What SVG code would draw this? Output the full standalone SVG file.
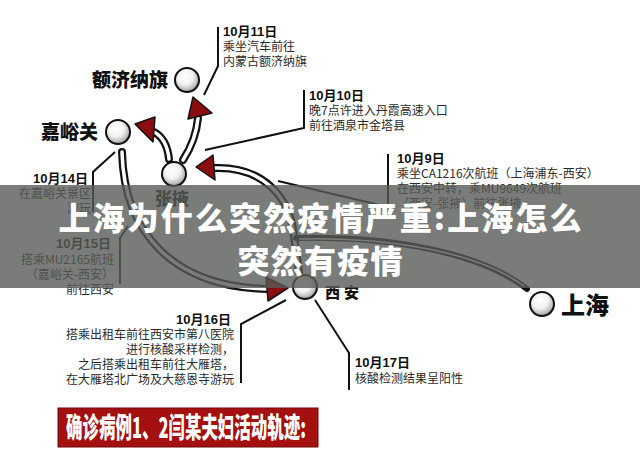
<svg xmlns="http://www.w3.org/2000/svg" width="640" height="475" viewBox="0 0 640 475">
<defs>
<radialGradient id="ball" cx="45%" cy="40%" r="60%" fx="38%" fy="32%">
<stop offset="0" stop-color="#ffffff"/>
<stop offset="0.55" stop-color="#f2f2f2"/>
<stop offset="0.85" stop-color="#bdbdbd"/>
<stop offset="1" stop-color="#8a8a8a"/>
</radialGradient>
<style>
.ball{fill:url(#ball);stroke:#111;stroke-width:2}
.place{font-family:"Noto Sans CJK SC","Noto Sans",sans-serif;font-weight:900;fill:#111}
.outer{fill:none;stroke:#111;stroke-width:8;stroke-linecap:round}
.inner{fill:none;stroke:#fff;stroke-width:3.5;stroke-linecap:round}
.head{fill:#8c0d10;stroke:#111;stroke-width:1.5;stroke-linejoin:round}
.lead{fill:none;stroke:#111;stroke-width:2}
.date{font-family:"Liberation Sans","Noto Sans CJK SC",sans-serif;font-weight:bold;font-size:13px;fill:#111}
.body{font-family:"Noto Sans CJK SC","Noto Sans",sans-serif;font-size:12px;fill:#2a2a2a}
.title{font-family:"Noto Sans CJK SC",sans-serif;font-weight:900;font-size:32px;fill:#fff}
</style>
</defs>
<rect width="640" height="475" fill="#fff"/>

<g id="connectors">
<!-- Zhangye to Ejina -->
<path class="outer" d="M183,160 Q196,140 198,118"/>
<path class="inner" d="M183,160 Q196,140 198,118"/>
<polygon class="head" points="193,97 212,113 188,119"/>
<!-- Zhangye to Jiayuguan -->
<path class="outer" d="M169,159 Q167,139 154,132"/>
<path class="inner" d="M169,159 Q167,139 154,132"/>
<polygon class="head" points="135,124 155,117 153,142"/>
<!-- Xi'an to Zhangye -->
<path class="outer" d="M214,168 C262,166 290,196 294,236 L299,272"/>
<path class="inner" d="M214,168 C262,166 290,196 294,236 L299,272"/>
<polygon class="head" points="196,167 213,155 215,180"/>
<!-- Jiayuguan to Xi'an -->
<path class="outer" d="M122,152 C124,232 172,287 268,289"/>
<path class="inner" d="M122,152 C124,232 172,287 268,289"/>
<polygon class="head" points="288,288 266,277 268,301"/>
<!-- Shanghai line -->
<path fill="none" stroke="#111" stroke-width="6" stroke-linecap="round" d="M527,289 C480,252 390,236 296,238"/>
<path fill="none" stroke="#fff" stroke-width="1.5" stroke-linecap="round" d="M524,286 C478,252 390,237 300,239"/>
</g>

<g id="node-ejina">
<circle class="ball" cx="187" cy="80" r="12"/>
<text class="place" x="168" y="87" font-size="19" text-anchor="end">额济纳旗</text>
</g>
<g id="node-jiayuguan">
<circle class="ball" cx="118" cy="132" r="12"/>
<text class="place" x="98" y="139" font-size="19" text-anchor="end">嘉峪关</text>
</g>
<g id="node-zhangye">
<circle class="ball" cx="174" cy="174" r="12"/>
<text class="place" x="172" y="205" font-size="17" text-anchor="middle">张掖</text>
</g>
<g id="node-xian">
<circle class="ball" cx="305" cy="287" r="12"/>
<text class="place" x="325" y="298" font-size="15" letter-spacing="4">西安</text>
</g>
<g id="node-shanghai">
<circle class="ball" cx="542" cy="304" r="12"/>
<text class="place" x="561" y="314" font-size="24">上海</text>
</g>

<g id="note-1011">
<polyline class="lead" points="218,27 218,66 204,95"/>
<text class="date" x="223" y="36">10月11日</text>
<text class="body" x="223" y="51">乘坐汽车前往</text>
<text class="body" x="223" y="66">内蒙古额济纳旗</text>
</g>
<g id="note-1010">
<polyline class="lead" points="304,90 304,128 205,150"/>
<text class="date" x="309" y="100">10月10日</text>
<text class="body" x="309" y="115">晚7点许进入丹霞高速入口</text>
<text class="body" x="309" y="130">前往酒泉市金塔县</text>
</g>
<g id="note-1009">
<polyline class="lead" points="388,154 388,207 278,181"/>
<text class="date" x="397" y="163">10月9日</text>
<text class="body" x="397" y="178">乘坐CA1216次航班（上海浦东-西安）</text>
<text class="body" x="397" y="193">在西安中转，乘MU9649次航班</text>
<text class="body" x="397" y="208">（西安-张掖）前往张掖</text>
</g>
<g id="note-1014">
<polyline class="lead" points="115,152 93,172 93,212"/>
<text class="date" x="88" y="183" text-anchor="end">10月14日</text>
<text class="body" x="91" y="198" text-anchor="end">在嘉峪关景区</text>
<text class="body" x="91" y="213" text-anchor="end">游玩</text>
</g>
<g id="note-1015">
<polyline class="lead" points="128,226 120,238 120,284"/>
<text class="date" x="111" y="248" text-anchor="end">10月15日</text>
<text class="body" x="114" y="264" text-anchor="end">搭乘MU2165航班</text>
<text class="body" x="114" y="279" text-anchor="end">（嘉峪关-西安）</text>
<text class="body" x="114" y="294" text-anchor="end">前往西安</text>
</g>
<g id="note-1016">
<polyline class="lead" points="286,300 241,324 241,383"/>
<text class="date" x="231" y="324" text-anchor="end">10月16日</text>
<text class="body" x="234" y="339" text-anchor="end">搭乘出租车前往西安市第八医院</text>
<text class="body" x="234" y="354" text-anchor="end">进行核酸采样检测，</text>
<text class="body" x="234" y="369" text-anchor="end">之后搭乘出租车前往大雁塔，</text>
<text class="body" x="234" y="384" text-anchor="end">在大雁塔北广场及大慈恩寺游玩</text>
</g>
<g id="note-1017">
<polyline class="lead" points="315,300 349,353 349,390"/>
<text class="date" x="355" y="367">10月17日</text>
<text class="body" x="355" y="383">核酸检测结果呈阳性</text>
</g>

<g id="banner">
<rect x="58" y="408" width="260" height="39" fill="#a3100f" stroke="#6e0a0a" stroke-width="1"/>
<text x="66" y="438" font-family="Noto Sans CJK SC,sans-serif" font-weight="900" font-size="28" fill="#fff" textLength="240" lengthAdjust="spacingAndGlyphs">确诊病例1、2闫某夫妇活动轨迹:</text>
</g>

<g id="overlay">
<rect x="0" y="185" width="640" height="103" fill="#585b58" opacity="0.8"/>
<text class="title" x="320" y="230" text-anchor="middle" textLength="523">上海为什么突然疫情严重:上海怎么</text>
<text class="title" x="320" y="273" text-anchor="middle" textLength="165">突然有疫情</text>
</g>
</svg>
